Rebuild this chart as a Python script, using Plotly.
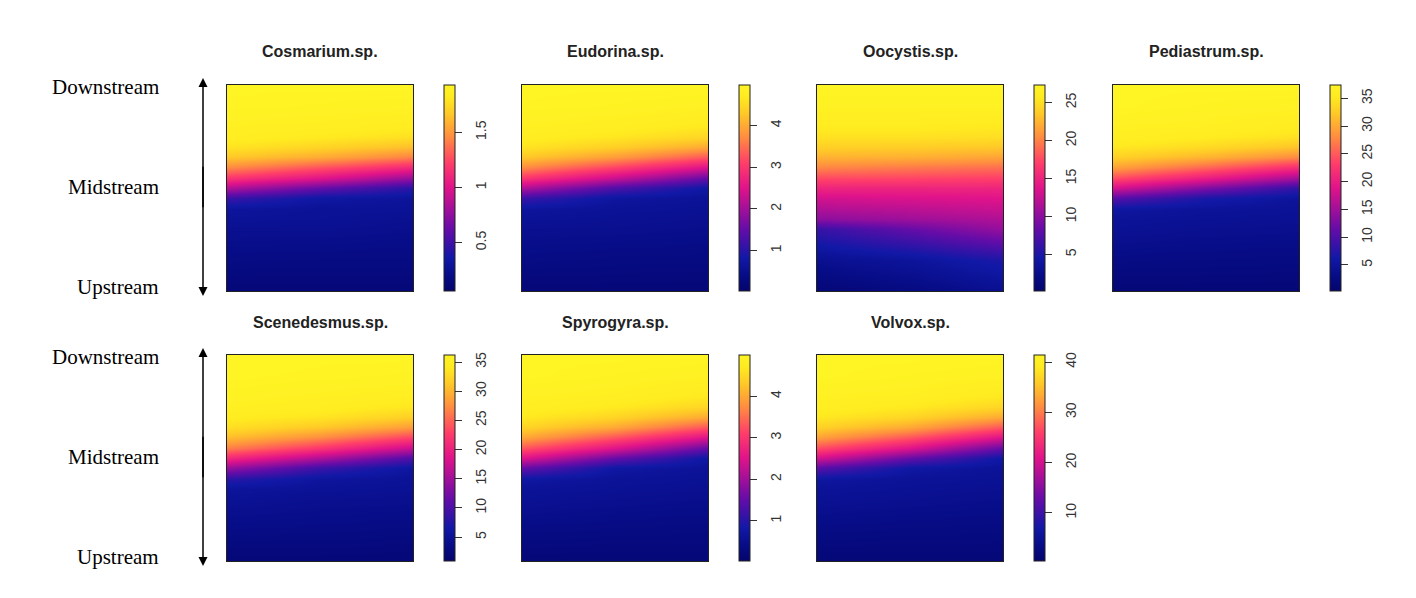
import plotly.graph_objects as go

W, H = 1416, 598

# ---------------- data ----------------
species = ["Cosmarium.sp.", "Eudorina.sp.", "Oocystis.sp.", "Pediastrum.sp.",
           "Scenedesmus.sp.", "Spyrogyra.sp.", "Volvox.sp."]

# grid positions: x across the reach (left, centre, right), y from upstream (0) to downstream (1)
x_pos = [0, 0.5, 1]
y_pos = [0, 0.15, 0.3, 0.35, 0.4, 0.45, 0.5, 0.55, 0.6, 0.65, 0.7, 0.75, 0.8, 0.9, 1.0]

# each row = [left, centre, right], rows ordered upstream -> downstream
cosmarium = [
    [0.12, 0.12, 0.12], [0.19, 0.18, 0.18], [0.25, 0.25, 0.23], [0.28, 0.27, 0.25],
    [0.31, 0.28, 0.28], [0.49, 0.34, 0.30], [0.85, 0.62, 0.43], [1.18, 1.00, 0.77],
    [1.46, 1.29, 1.12], [1.67, 1.56, 1.42], [1.79, 1.72, 1.63], [1.86, 1.82, 1.77],
    [1.88, 1.87, 1.84], [1.92, 1.91, 1.90], [1.93, 1.93, 1.93]]
eudorina = [
    [0.18, 0.18, 0.18], [0.38, 0.34, 0.33], [0.52, 0.51, 0.47], [0.60, 0.56, 0.52],
    [0.70, 0.61, 0.57], [1.17, 0.72, 0.62], [2.10, 1.31, 0.77], [2.99, 2.30, 1.51],
    [3.74, 3.14, 2.50], [4.28, 3.86, 3.29], [4.60, 4.35, 3.98], [4.77, 4.63, 4.43],
    [4.85, 4.79, 4.67], [4.95, 4.92, 4.87], [4.97, 4.97, 4.97]]
oocystis = [
    [1.0, 1.8, 2.9], [2.9, 3.7, 5.1], [6.2, 8.3, 10.5], [10.0, 10.8, 11.6],
    [11.6, 12.1, 12.7], [13.2, 13.5, 13.8], [15.1, 15.1, 15.1], [17.5, 17.3, 17.0],
    [20.3, 19.7, 19.2], [22.4, 22.2, 21.6], [24.0, 23.8, 23.5], [25.1, 25.1, 24.9],
    [25.9, 25.9, 25.7], [26.8, 26.8, 26.8], [27.3, 27.3, 27.3]]
pediastrum = [
    [1.4, 1.4, 1.4], [2.9, 2.7, 2.6], [4.4, 4.0, 3.8], [4.8, 4.4, 4.2],
    [5.7, 4.9, 4.6], [10.7, 6.8, 5.1], [18.1, 12.9, 8.1], [24.2, 20.0, 15.1],
    [29.6, 25.9, 21.8], [33.0, 30.7, 27.8], [35.0, 33.7, 31.8], [36.2, 35.4, 34.4],
    [36.6, 36.4, 35.7], [37.4, 37.0, 36.8], [37.4, 37.4, 37.4]]
scenedesmus = [
    [2.0, 2.0, 2.0], [3.5, 3.4, 3.1], [4.9, 4.4, 4.3], [5.5, 5.0, 4.7],
    [8.0, 5.7, 5.1], [14.3, 9.0, 5.8], [20.8, 15.7, 10.1], [26.5, 22.1, 17.1],
    [30.6, 27.4, 23.1], [33.2, 31.3, 28.3], [34.5, 33.6, 31.8], [35.3, 34.8, 33.8],
    [35.7, 35.3, 34.9], [36.2, 36.0, 35.8], [36.2, 36.2, 36.2]]
spyrogyra = [
    [0.18, 0.18, 0.18], [0.38, 0.35, 0.33], [0.58, 0.52, 0.48], [0.63, 0.58, 0.53],
    [0.77, 0.63, 0.58], [1.52, 0.77, 0.63], [2.51, 1.52, 0.77], [3.30, 2.51, 1.52],
    [4.00, 3.30, 2.51], [4.44, 4.00, 3.30], [4.69, 4.44, 4.00], [4.84, 4.69, 4.44],
    [4.89, 4.84, 4.69], [4.99, 4.94, 4.89], [4.99, 4.99, 4.99]]
volvox = [
    [1.6, 1.6, 1.6], [3.3, 3.0, 2.9], [4.9, 4.5, 4.1], [5.3, 4.9, 4.5],
    [6.3, 5.3, 4.9], [11.9, 6.6, 5.3], [20.1, 12.7, 6.6], [26.8, 20.9, 12.7],
    [32.8, 27.5, 20.9], [36.6, 33.2, 27.5], [38.8, 36.9, 33.2], [40.0, 38.9, 36.9],
    [40.5, 40.2, 38.9], [41.4, 41.0, 40.6], [41.4, 41.4, 41.4]]

z_data = [cosmarium, eudorina, oocystis, pediastrum, scenedesmus, spyrogyra, volvox]
z_min = [0.06, 0.03, 0.2, 0.3, 0.9, 0.03, 0.4]
z_max = [1.93, 4.97, 27.3, 37.4, 36.2, 4.99, 41.4]
tick_vals = [
    [0.5, 1, 1.5],
    [1, 2, 3, 4],
    [5, 10, 15, 20, 25],
    [5, 10, 15, 20, 25, 30, 35],
    [5, 10, 15, 20, 25, 30, 35],
    [1, 2, 3, 4],
    [10, 20, 30, 40]]
tick_text = [
    ["0.5", "1", "1.5"],
    ["1", "2", "3", "4"],
    ["5", "10", "15", "20", "25"],
    ["5", "10", "15", "20", "25", "30", "35"],
    ["5", "10", "15", "20", "25", "30", "35"],
    ["1", "2", "3", "4"],
    ["10", "20", "30", "40"]]
stream_labels = ["Downstream", "Midstream", "Upstream"]

# ---------------- layout geometry (pixels) ----------------
col_left = [227, 522, 817, 1113]
panel_w = 186
row_top = [85, 355]
panel_h = 206
cb_offset = 217   # colorbar left edge relative to panel left
cb_w = 11
lab_offset = 241  # tick-label colorbar left edge relative to panel left

colorscale = [
    [0.0, "#04046c"], [0.08, "#070d88"], [0.16, "#1118a6"], [0.3, "#650ca8"],
    [0.5, "#e0138a"], [0.62, "#ff3d6a"], [0.75, "#ff8e40"], [0.86, "#ffc828"],
    [0.94, "#ffea20"], [1.0, "#fff424"]]
clear_scale = [[0, "rgba(0,0,0,0)"], [1, "rgba(0,0,0,0)"]]
label_font = dict(family="Liberation Sans, Arial", size=14, color="#333")

fig = go.Figure()
annotations = []
for i, name in enumerate(species):
    r, c = divmod(i, 4)
    x0 = col_left[c]
    y0 = row_top[r]
    ax_id = "" if i == 0 else str(i + 1)
    cb_y = 1 - (y0 + panel_h / 2) / H
    # main heatmap + colour bar with tick marks
    fig.add_trace(go.Heatmap(
        x=x_pos, y=y_pos, z=z_data[i], zmin=z_min[i], zmax=z_max[i],
        zsmooth="best", colorscale=colorscale,
        xaxis="x" + ax_id, yaxis="y" + ax_id,
        colorbar=dict(
            x=(x0 + cb_offset) / W, xanchor="left", xref="paper",
            y=cb_y, yanchor="middle", yref="paper",
            len=panel_h, lenmode="pixels", thickness=cb_w, thicknessmode="pixels",
            xpad=0, ypad=0, outlinewidth=1, outlinecolor="#222",
            ticks="outside", ticklen=7, tickwidth=1, tickcolor="#333",
            tickmode="array", tickvals=tick_vals[i], showticklabels=False,
        ),
    ))
    # transparent twin whose colour bar only carries the rotated tick labels
    fig.add_trace(go.Heatmap(
        x=x_pos, y=y_pos, z=z_data[i], zmin=z_min[i], zmax=z_max[i],
        colorscale=clear_scale, hoverinfo="skip",
        xaxis="x" + ax_id, yaxis="y" + ax_id,
        colorbar=dict(
            x=(x0 + lab_offset) / W, xanchor="left", xref="paper",
            y=cb_y, yanchor="middle", yref="paper",
            len=panel_h, lenmode="pixels", thickness=1, thicknessmode="pixels",
            xpad=0, ypad=0, outlinewidth=0, ticks="",
            tickmode="array", tickvals=tick_vals[i], ticktext=tick_text[i],
            tickangle=-90, tickfont=label_font,
        ),
    ))
    axis_common = dict(range=[0, 1], showticklabels=False, ticks="", showgrid=False,
                       zeroline=False, showline=True, mirror=True, linecolor="#222",
                       linewidth=1, fixedrange=True)
    fig.layout["xaxis" + ax_id] = dict(domain=[x0 / W, (x0 + panel_w) / W],
                                       anchor="y" + ax_id, **axis_common)
    fig.layout["yaxis" + ax_id] = dict(domain=[1 - (y0 + panel_h) / H, 1 - y0 / H],
                                       anchor="x" + ax_id, **axis_common)
    annotations.append(dict(
        text="<b>%s</b>" % name, x=(x0 + panel_w / 2) / W, y=1 - (y0 - 33) / H,
        xref="paper", yref="paper", showarrow=False, xanchor="center", yanchor="middle",
        font=dict(family="Liberation Sans, Arial", size=16, color="#222")))

# left-hand stream position labels and double arrows
for y0 in row_top:
    for k, lab in enumerate(stream_labels):
        annotations.append(dict(
            text=lab, x=161 / W, y=1 - (y0 + 2 + k * 100) / H, xref="paper", yref="paper",
            showarrow=False, xanchor="right", yanchor="middle",
            font=dict(family="Liberation Serif, Times New Roman", size=21, color="black")))
    top_tip = y0 - 7
    bot_tip = y0 + panel_h + 5
    mid = (top_tip + bot_tip) / 2
    for tip in (top_tip, bot_tip):
        annotations.append(dict(
            text="", x=203 / W, y=1 - tip / H, xref="paper", yref="paper",
            ax=0, ay=(mid - tip) * 1.2, axref="pixel", ayref="pixel",
            showarrow=True, arrowhead=2, arrowsize=1.2, arrowwidth=1.5,
            arrowcolor="black", standoff=0))

fig.update_layout(
    width=W, height=H, margin=dict(l=0, r=0, t=0, b=0),
    paper_bgcolor="white", plot_bgcolor="white",
    annotations=annotations, showlegend=False,
)

fig.write_html("out.html")
